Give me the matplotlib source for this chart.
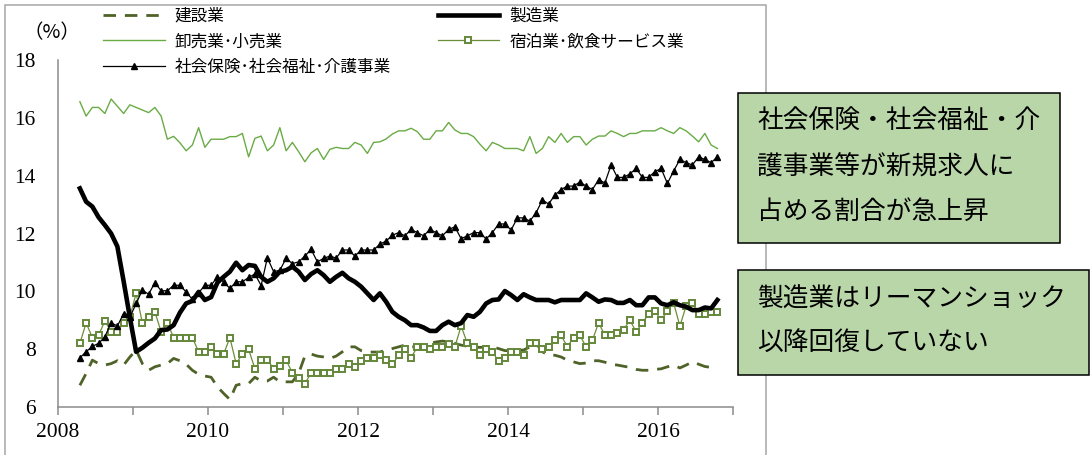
import matplotlib
matplotlib.use("Agg")
import matplotlib.pyplot as plt
from matplotlib.patches import Rectangle
import numpy as np
import pandas as pd

JP = ['Noto Sans CJK JP', 'DejaVu Sans']
SERIF = ['Liberation Serif', 'DejaVu Serif']

# ---------------- data (monthly, 2008-04 .. 2016-10) ----------------
start_month = "2008-04"
end_month = "2016-10"

construction = [
    6.75, 7.16, 7.62, 7.50, 7.45, 7.50, 7.60, 7.45, 7.73, 7.97,
    7.50, 7.27, 7.39, 7.45, 7.50, 7.68, 7.60, 7.48, 7.27, 7.13,
    7.07, 7.03, 6.70, 6.47, 6.26, 6.75, 6.81, 6.81, 7.03, 6.90,
    6.90, 7.03, 6.87, 6.87, 6.87, 7.16, 7.76, 7.83, 7.76, 7.73,
    7.68, 7.76, 7.91, 8.08, 8.08, 7.95, 7.90, 7.90, 7.90,
    7.97, 8.02, 8.08, 8.14, 8.08, 8.08, 8.14, 8.20, 8.25, 8.28,
    8.25, 8.20, 8.14, 8.10, 8.08, 8.06, 8.08, 8.08, 8.02, 7.95,
    7.95, 7.97, 7.97, 8.08, 8.20, 7.91, 7.79, 7.79, 7.73, 7.62,
    7.56, 7.50, 7.52, 7.60, 7.60, 7.55, 7.48, 7.45, 7.41, 7.37,
    7.30, 7.27, 7.27, 7.30, 7.32, 7.39, 7.45, 7.35, 7.45, 7.56,
    7.48, 7.40, 7.37, 7.37,
]

manufacturing = [
    13.56, 13.10, 12.93, 12.56, 12.29, 12.00, 11.55, 10.35, 9.10, 7.91,
    8.05, 8.22, 8.37, 8.66, 8.68, 8.83, 9.26, 9.58, 9.67, 9.98,
    9.70, 9.80, 10.30, 10.50, 10.68, 10.99, 10.73, 10.91, 10.88, 10.50,
    10.33, 10.45, 10.68, 10.73, 10.85, 10.68, 10.39, 10.60, 10.73, 10.56,
    10.33, 10.50, 10.64, 10.45, 10.33, 10.16, 9.93, 9.70, 9.93, 9.64,
    9.29, 9.12, 9.00, 8.83, 8.83, 8.75, 8.63, 8.63, 8.83, 8.95,
    8.83, 8.90, 9.18, 9.12, 9.29, 9.58, 9.70, 9.72, 10.01, 9.87,
    9.70, 9.90, 9.79, 9.70, 9.70, 9.70, 9.62, 9.70, 9.70, 9.70,
    9.70, 9.93, 9.79, 9.64, 9.72, 9.70, 9.60, 9.60, 9.70, 9.52,
    9.52, 9.79, 9.79, 9.58, 9.52, 9.62, 9.52, 9.47, 9.35, 9.35,
    9.44, 9.41, 9.70,
]

wholesale_retail = [
    16.56, 16.06, 16.36, 16.36, 16.15, 16.65, 16.40, 16.15, 16.45, 16.36,
    16.27, 16.18, 16.36, 16.06, 15.26, 15.36, 15.14, 14.86, 15.06, 15.66,
    14.98, 15.26, 15.26, 15.26, 15.35, 15.35, 15.46, 14.65, 15.29, 15.37,
    14.86, 15.06, 15.66, 14.86, 15.15, 14.83, 14.48, 14.79, 14.94, 14.56,
    14.91, 14.98, 14.94, 14.94, 15.15, 15.06, 14.77, 15.15, 15.17, 15.27,
    15.44, 15.55, 15.55, 15.64, 15.52, 15.26, 15.26, 15.55, 15.55, 15.84,
    15.58, 15.46, 15.46, 15.35, 15.09, 14.86, 15.15, 15.06, 14.94, 14.94,
    14.94, 14.86, 15.35, 14.77, 14.94, 15.35, 15.15, 15.46, 15.15, 15.35,
    15.35, 15.06, 15.26, 15.37, 15.37, 15.55, 15.46, 15.35, 15.46, 15.46,
    15.55, 15.55, 15.55, 15.66, 15.55, 15.46, 15.66, 15.55, 15.37, 15.17,
    15.46, 15.06, 14.94,
]

accommodation_food = [
    8.20, 8.91, 8.40, 8.48, 8.98, 8.60, 8.60, 8.91, 9.12, 9.93,
    8.91, 9.12, 9.29, 8.60, 8.91, 8.40, 8.40, 8.40, 8.40, 7.91,
    7.91, 8.08, 7.83, 7.83, 8.40, 7.50, 7.83, 7.99, 7.33, 7.62,
    7.62, 7.33, 7.41, 7.62, 7.18, 7.01, 6.81, 7.18, 7.18, 7.18,
    7.18, 7.30, 7.30, 7.48, 7.40, 7.60, 7.70, 7.70, 7.79, 7.62,
    7.48, 7.79, 7.99, 7.71, 8.08, 8.08, 7.99, 8.08, 8.08, 8.17,
    8.08, 8.80, 8.20, 8.08, 7.79, 7.99, 7.91, 7.58, 7.71, 7.91,
    7.91, 7.79, 8.20, 8.20, 7.99, 8.08, 8.31, 8.48, 8.08, 8.40,
    8.48, 8.08, 8.31, 8.91, 8.48, 8.48, 8.57, 8.68, 9.00, 8.60,
    8.91, 9.21, 9.33, 9.00, 9.33, 9.60, 8.80, 9.49, 9.60, 9.21,
    9.21, 9.29, 9.29,
]

social_welfare = [
    7.70, 7.91, 8.10, 8.20, 8.43, 8.91, 8.80, 9.23, 9.10, 9.58,
    10.04, 9.90, 10.30, 10.02, 10.02, 10.21, 10.21, 9.98, 9.72, 9.95,
    10.21, 10.21, 10.50, 10.33, 10.10, 10.33, 10.33, 10.48, 10.60, 10.20,
    11.16, 10.68, 10.73, 11.14, 10.96, 11.02, 11.22, 11.45, 11.02, 11.14,
    11.22, 11.15, 11.43, 11.43, 11.22, 11.43, 11.43, 11.43, 11.63, 11.74,
    11.94, 12.03, 11.92, 12.14, 12.03, 11.92, 12.14, 12.03, 11.92, 12.14,
    12.23, 11.82, 11.92, 12.03, 12.03, 11.81, 12.03, 12.33, 12.33, 12.12,
    12.54, 12.54, 12.43, 12.72, 13.16, 13.02, 13.33, 13.52, 13.64, 13.64,
    13.78, 13.64, 13.52, 13.86, 13.75, 14.37, 13.94, 13.94, 14.06, 14.25,
    13.94, 13.94, 14.14, 14.25, 13.73, 14.16, 14.56, 14.45, 14.37, 14.65,
    14.56, 14.45, 14.65,
]

series_labels = ["建設業", "製造業", "卸売業･小売業",
                 "宿泊業･飲食サービス業", "社会保険･社会福祉･介護事業"]
y_ticks = [6, 8, 10, 12, 14, 16, 18]
x_major = [2008, 2010, 2012, 2014, 2016]
x_minor = [2009, 2011, 2013, 2015, 2017]
unit_label = "（%）"
note1_lines = ["社会保険・社会福祉・介", "護事業等が新規求人に", "占める割合が急上昇"]
note2_lines = ["製造業はリーマンショック", "以降回復していない"]

# ---------------- figure ----------------
W, H = 1091, 455
fig = plt.figure(figsize=(W / 100, H / 100), dpi=100)
fig.patch.set_facecolor("white")

def fx(px):
    return px / W

def fy(py):
    return 1 - py / H

# outer chart frame (left/top/right, runs off the bottom)
frame = Rectangle((fx(5), fy(470)), fx(766) - fx(5), fy(5) - fy(470),
                  transform=fig.transFigure, fill=False,
                  edgecolor="#a6a6a6", lw=1.1, zorder=0)
fig.add_artist(frame)

ax = fig.add_axes([fx(58), fy(407), fx(733) - fx(58), fy(60) - fy(407)])
ax.set_facecolor("none")

months = pd.date_range(start_month, end_month, freq="MS")
xdec = months.year + (months.month - 1 + 0.5) / 12.0

gray = "#8c8c8c"
l_con, = ax.plot(xdec, construction, color="#4f6228", lw=2.0,
                 dashes=(4.5, 3.2), label=series_labels[0], zorder=2)
l_whs, = ax.plot(xdec, wholesale_retail, color="#6aab45", lw=1.0,
                 label=series_labels[2], zorder=2)
l_acc, = ax.plot(xdec, accommodation_food, color="#6b8e38", lw=0.9,
                 marker="s", markersize=4.3, markerfacecolor="white",
                 markeredgecolor="#64883a", markeredgewidth=1.4,
                 label=series_labels[3], zorder=3)
l_man, = ax.plot(xdec, manufacturing, color="black", lw=3.3,
                 solid_joinstyle="round", label=series_labels[1], zorder=4)
l_soc, = ax.plot(xdec, social_welfare, color="black", lw=0.9,
                 marker="^", markersize=5.0, markerfacecolor="black",
                 markeredgecolor="black", label=series_labels[4], zorder=5)

ax.set_xlim(2008, 2017)
ax.set_ylim(6, 18)
ax.set_yticks(y_ticks)
ax.set_xticks(x_major)
ax.set_xticks(x_minor, minor=True)
ax.set_xticklabels([str(v) for v in x_major], fontfamily=SERIF, fontsize=15.5)
ax.set_yticklabels([str(v) for v in y_ticks], fontfamily=SERIF, fontsize=15.5)
ax.tick_params(axis="y", length=0, pad=16)
ax.tick_params(axis="x", which="both", direction="out", length=5.5,
               width=1.1, color=gray, pad=6)
for s in ("top", "right"):
    ax.spines[s].set_visible(False)
for s in ("left", "bottom"):
    ax.spines[s].set_color(gray)
    ax.spines[s].set_linewidth(1.1)

fig.text(fx(52), fy(33), unit_label, fontfamily=JP, fontsize=14,
         ha="center", va="center")

handles = [l_con, l_whs, l_soc, l_man, l_acc]
leg = fig.legend(handles, [h.get_label() for h in handles], ncol=2,
                 loc="upper left", bbox_to_anchor=(fx(103), fy(8)),
                 frameon=False, prop={"family": JP, "size": 12},
                 handlelength=3.7, handletextpad=0.6, columnspacing=2.8,
                 labelspacing=0.5, borderpad=0, borderaxespad=0,
                 numpoints=1)

# annotation boxes
box_fc = "#b9d6a9"
b1 = Rectangle((fx(738), fy(243)), fx(1060) - fx(738), fy(93) - fy(243),
               transform=fig.transFigure, facecolor=box_fc,
               edgecolor="black", lw=1.1, zorder=5)
fig.add_artist(b1)
for line, yc in zip(note1_lines, [122, 168, 212]):
    fig.text(fx(757), fy(yc), line, fontfamily=JP, fontsize=18.5,
             ha="left", va="center", zorder=6)

b2 = Rectangle((fx(738), fy(375)), fx(1089) - fx(738), fy(270) - fy(375),
               transform=fig.transFigure, facecolor=box_fc,
               edgecolor="black", lw=1.1, zorder=5)
fig.add_artist(b2)
for line, yc in zip(note2_lines, [300, 343]):
    fig.text(fx(757), fy(yc), line, fontfamily=JP, fontsize=18.5,
             ha="left", va="center", zorder=6)

fig.savefig("out.png", dpi=100)
